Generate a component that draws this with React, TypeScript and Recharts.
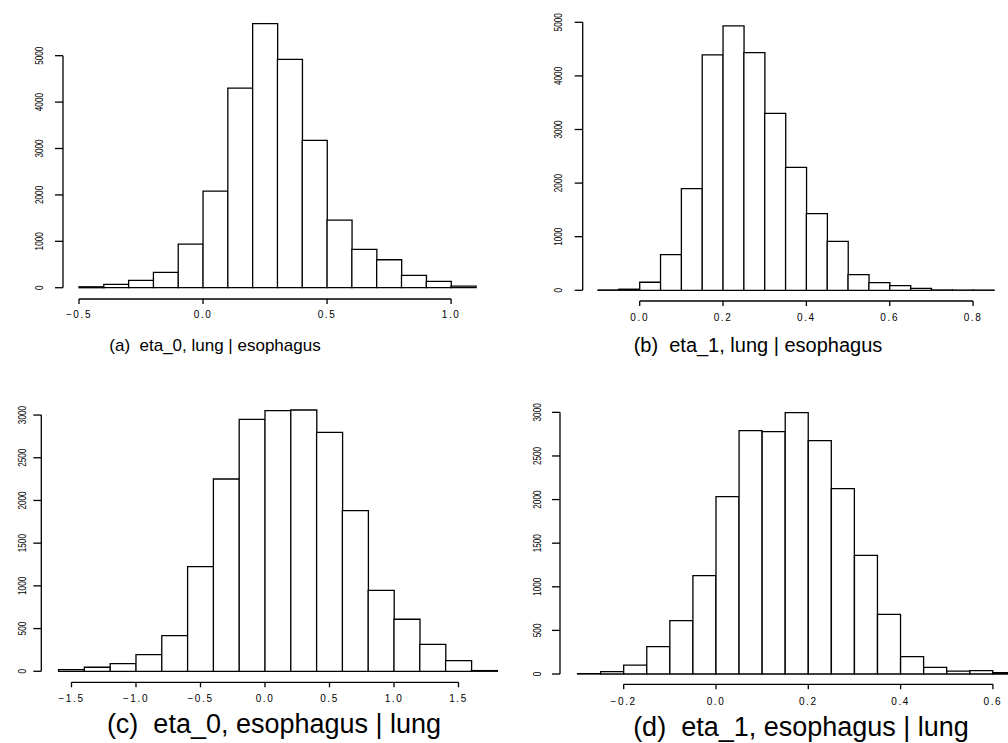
import React from "react";
import { ComposedChart, Bar, XAxis, YAxis, Scatter } from "recharts";

// ---- data (bin midpoints and counts) ----
const aMids = [-0.45, -0.35, -0.25, -0.15, -0.05, 0.05, 0.15, 0.25, 0.35, 0.45, 0.55, 0.65, 0.75, 0.85, 0.95, 1.05];
const aCounts = [20, 70, 160, 330, 940, 2080, 4300, 5690, 4920, 3175, 1458, 826, 603, 266, 136, 36];
const aXTicks = [-0.5, 0.0, 0.5, 1.0];
const aYTicks = [0, 1000, 2000, 3000, 4000, 5000];

const bMids = [-0.075, -0.025, 0.025, 0.075, 0.125, 0.175, 0.225, 0.275, 0.325, 0.375, 0.425, 0.475, 0.525, 0.575, 0.625, 0.675, 0.725, 0.775, 0.825];
const bCounts = [6, 20, 150, 665, 1897, 4391, 4932, 4434, 3302, 2295, 1430, 914, 292, 143, 87, 37, 6, 4, 4];
const bXTicks = [0.0, 0.2, 0.4, 0.6, 0.8];
const bYTicks = [0, 1000, 2000, 3000, 4000, 5000];

const cMids = [-1.5, -1.3, -1.1, -0.9, -0.7, -0.5, -0.3, -0.1, 0.1, 0.3, 0.5, 0.7, 0.9, 1.1, 1.3, 1.5, 1.7];
const cCounts = [20, 47, 90, 195, 417, 1225, 2251, 2950, 3051, 3059, 2798, 1881, 948, 609, 316, 125, 8];
const cXTicks = [-1.5, -1.0, -0.5, 0.0, 0.5, 1.0, 1.5];
const cYTicks = [0, 500, 1000, 1500, 2000, 2500, 3000];

const dMids = [-0.275, -0.225, -0.175, -0.125, -0.075, -0.025, 0.025, 0.075, 0.125, 0.175, 0.225, 0.275, 0.325, 0.375, 0.425, 0.475, 0.525, 0.575, 0.625];
const dCounts = [4, 27, 103, 313, 611, 1127, 2033, 2790, 2778, 2996, 2675, 2125, 1360, 684, 199, 76, 34, 38, 15];
const dXTicks = [-0.2, 0.0, 0.2, 0.4, 0.6];
const dYTicks = [0, 500, 1000, 1500, 2000, 2500, 3000];

const FONT = "'Liberation Sans', Arial, Helvetica, sans-serif";
const LINE_W = 1.3;

const fmtX = (v: number) => {
  const s = Math.abs(v).toFixed(1);
  return v < 0 ? "\u2212" + s : s;
};

const YTick = (props: any) => {
  const { x, y, payload } = props;
  return (
    <text
      transform={`translate(${x},${y}) rotate(-90) scale(0.82,1)`}
      textAnchor="middle"
      fontSize={10}
      fontFamily={FONT}
      fill="#000"
    >
      {String(payload.value)}
    </text>
  );
};

const XTick = (props: any) => {
  const { x, y, payload } = props;
  return (
    <text
      x={x}
      y={y}
      dy="0.71em"
      textAnchor="middle"
      fontSize={10}
      letterSpacing={1.6}
      fontFamily={FONT}
      fill="#000"
    >
      {fmtX(payload.value)}
    </text>
  );
};

const NoShape = () => <g />;

type PanelProps = {
  mids: number[];
  counts: number[];
  xTicks: number[];
  yTicks: number[];
  xDomain: [number, number];
  yDomain: [number, number];
  left: number;
  top: number;
  width: number;
  height: number;
  margin: { top: number; right: number; bottom: number; left: number };
  yTickMargin: number;
  xTickMargin: number;
  title: string;
  titleCenter: number;
  titleTop: number;
  titleSize: number;
};

const Panel = (p: PanelProps) => {
  const data = p.mids.map((m, i) => ({ mid: m, count: p.counts[i] }));
  const xFirst = p.xTicks[0];
  const xLast = p.xTicks[p.xTicks.length - 1];
  const yFirst = p.yTicks[0];
  const yLast = p.yTicks[p.yTicks.length - 1];
  // axis-line end points in data units (R style: line spans first..last tick)
  const xAxisLine = [
    { mid: xFirst, count: p.yDomain[0] },
    { mid: xLast, count: p.yDomain[0] },
  ];
  const yAxisLine = [
    { mid: p.xDomain[0], count: yFirst },
    { mid: p.xDomain[0], count: yLast },
  ];
  return (
    <>
      <div style={{ position: "absolute", left: p.left, top: p.top, width: p.width, height: p.height }}>
        <ComposedChart
          width={p.width}
          height={p.height}
          data={data}
          margin={p.margin}
          barCategoryGap={0}
          barGap={0}
        >
          <XAxis
            type="number"
            dataKey="mid"
            domain={p.xDomain}
            ticks={p.xTicks}
            interval={0}
            axisLine={false}
            stroke="#000"
            tickLine={{ stroke: "#000", strokeWidth: LINE_W }}
            tickSize={5}
            tickMargin={p.xTickMargin}
            tick={<XTick />}
            height={30}
          />
          <XAxis
            xAxisId="lines"
            type="number"
            dataKey="mid"
            domain={p.xDomain}
            hide
          />
          <YAxis
            type="number"
            domain={p.yDomain}
            ticks={p.yTicks}
            interval={0}
            axisLine={false}
            stroke="#000"
            tickLine={{ stroke: "#000", strokeWidth: LINE_W }}
            tickSize={8}
            tickMargin={p.yTickMargin}
            tick={<YTick />}
            width={30}
          />
          <Bar
            dataKey="count"
            fill="#ffffff"
            stroke="#000000"
            strokeWidth={1.3}
            isAnimationActive={false}
          />
          <Scatter
            xAxisId="lines"
            data={xAxisLine}
            dataKey="count"
            fill="#000"
            line={{ stroke: "#000", strokeWidth: LINE_W }}
            shape={<NoShape />}
            isAnimationActive={false}
          />
          <Scatter
            xAxisId="lines"
            data={yAxisLine}
            dataKey="count"
            fill="#000"
            line={{ stroke: "#000", strokeWidth: LINE_W }}
            shape={<NoShape />}
            isAnimationActive={false}
          />
        </ComposedChart>
      </div>
      <div
        style={{
          position: "absolute",
          left: p.titleCenter - 250,
          width: 500,
          top: p.titleTop,
          textAlign: "center",
          fontFamily: FONT,
          fontSize: p.titleSize,
          lineHeight: 1,
          whiteSpace: "pre",
          color: "#000",
        }}
      >
        {p.title}
      </div>
    </>
  );
};

export default function App() {
  return (
    <div
      style={{
        position: "absolute",
        left: 0,
        top: 0,
        width: 1008,
        height: 743,
        background: "#fff",
        overflow: "hidden",
      }}
    >
      <Panel
        mids={aMids}
        counts={aCounts}
        xTicks={aXTicks}
        yTicks={aYTicks}
        xDomain={[-0.5645, 1.1]}
        yDomain={[-243, 5700]}
        left={0}
        top={0}
        width={504}
        height={370}
        margin={{ top: 23.2, right: 28.1, bottom: 41, left: 33 }}
        yTickMargin={12}
        xTickMargin={7}
        title={"(a)  eta_0, lung | esophagus"}
        titleCenter={215}
        titleTop={337.3}
        titleSize={17}
      />
      <Panel
        mids={bMids}
        counts={bCounts}
        xTicks={bXTicks}
        yTicks={bYTicks}
        xDomain={[-0.1368, 0.85]}
        yDomain={[-200, 5000]}
        left={504}
        top={0}
        width={504}
        height={370}
        margin={{ top: 22.3, right: 14.1, bottom: 39, left: 48.7 }}
        yTickMargin={13}
        xTickMargin={8}
        title={"(b)  eta_1, lung | esophagus"}
        titleCenter={758}
        titleTop={335}
        titleSize={20}
      />
      <Panel
        mids={cMids}
        counts={cCounts}
        xTicks={cXTicks}
        yTicks={cYTicks}
        xDomain={[-1.734, 1.8]}
        yDomain={[-129, 3100]}
        left={0}
        top={370}
        width={504}
        height={373}
        margin={{ top: 36.5, right: 6.8, bottom: 30.7, left: 11.3 }}
        yTickMargin={7}
        xTickMargin={8}
        title={"(c)  eta_0, esophagus | lung"}
        titleCenter={274}
        titleTop={711.4}
        titleSize={27}
      />
      <Panel
        mids={dMids}
        counts={dCounts}
        xTicks={dXTicks}
        yTicks={dYTicks}
        xDomain={[-0.338, 0.6327]}
        yDomain={[-118, 3050]}
        left={504}
        top={370}
        width={504}
        height={373}
        margin={{ top: 38, right: 0, bottom: 28.7, left: 26 }}
        yTickMargin={11}
        xTickMargin={9}
        title={"(d)  eta_1, esophagus | lung"}
        titleCenter={801}
        titleTop={713.8}
        titleSize={27}
      />
    </div>
  );
}
